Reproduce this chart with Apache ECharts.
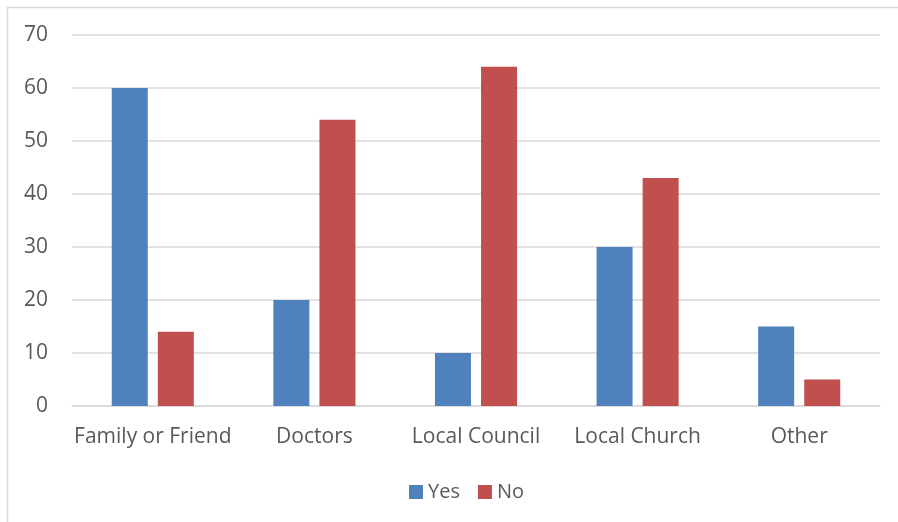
<!DOCTYPE html>
<html>
<head>
<meta charset="utf-8">
<script src="https://cdn.jsdelivr.net/npm/echarts@6/dist/echarts.min.js"></script>
<style>
  html, body { margin: 0; padding: 0; background: #fff; }
  #chart { width: 898px; height: 522px; }
</style>
</head>
<body>
<div id="chart"></div>
<script>
const categories = ['Family or Friend', 'Doctors', 'Local Council', 'Local Church', 'Other'];
const yesValues = [60, 20, 10, 30, 15];
const noValues = [14, 54, 64, 43, 5];
const seriesNames = ['Yes', 'No'];

const textColor = '#595959';
const fontFamily = '"Open Sans", "Liberation Sans", sans-serif';

const chart = echarts.init(document.getElementById('chart'), null, { renderer: 'canvas' });
chart.setOption({
  animation: false,
  backgroundColor: '#ffffff',
  color: ['#4F81BD', '#C0504D'],
  graphic: [
    { type: 'line', shape: { x1: 7, y1: 7.5, x2: 898, y2: 7.5 }, style: { stroke: '#d9d9d9', lineWidth: 1.5 } },
    { type: 'line', shape: { x1: 7.5, y1: 7, x2: 7.5, y2: 522 }, style: { stroke: '#d9d9d9', lineWidth: 1.5 } }
  ],
  grid: { left: 72, right: 18, top: 35, bottom: 116, containLabel: false },
  legend: {
    data: seriesNames,
    top: 477,
    left: 404,
    itemWidth: 14,
    itemHeight: 14,
    itemGap: 18,
    icon: 'rect',
    textStyle: { color: textColor, fontSize: 20, fontFamily: fontFamily }
  },
  xAxis: {
    type: 'category',
    data: categories,
    axisLine: { lineStyle: { color: '#d9d9d9', width: 1.5 } },
    axisTick: { show: false },
    axisLabel: { color: textColor, fontSize: 21, fontFamily: fontFamily, margin: 21, interval: 0 }
  },
  yAxis: {
    type: 'value',
    min: 0,
    max: 70,
    interval: 10,
    axisLine: { show: false },
    axisTick: { show: false },
    splitLine: { lineStyle: { color: '#d9d9d9', width: 1.5 } },
    axisLabel: { color: textColor, fontSize: 21, fontFamily: fontFamily, margin: 24 }
  },
  series: [
    { name: seriesNames[0], type: 'bar', data: yesValues, barWidth: 36, barGap: '28%' },
    { name: seriesNames[1], type: 'bar', data: noValues, barWidth: 36, barGap: '28%' }
  ]
});
</script>
</body>
</html>
